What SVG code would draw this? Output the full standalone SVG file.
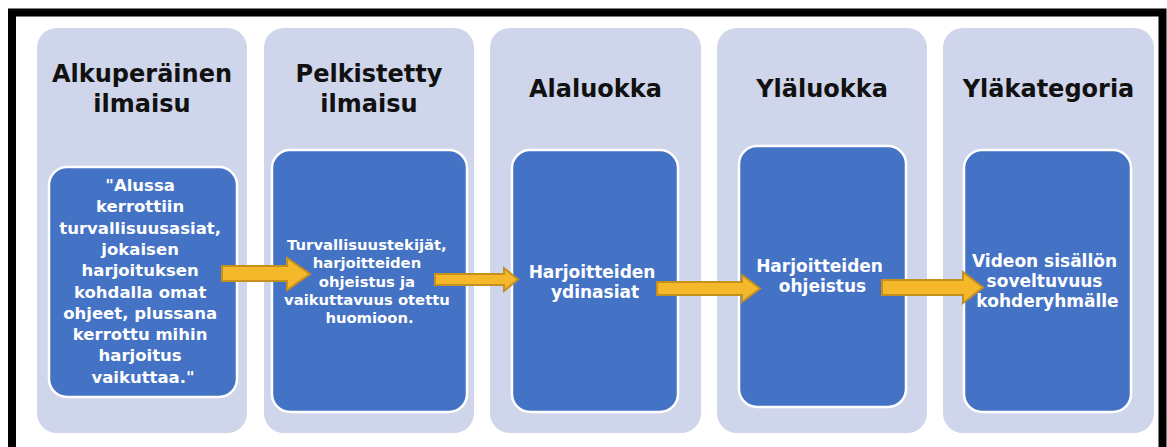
<svg xmlns="http://www.w3.org/2000/svg" width="1167" height="447" viewBox="0 0 1167 447">
<style>
.col{fill:#CFD5EA}
.box{fill:#4472C4;stroke:#FFFFFF;stroke-width:2.5}
.hd{font-family:"DejaVu Sans",Verdana,sans-serif;font-weight:bold;font-size:24px;fill:#111111;text-anchor:middle}
.t{font-family:"DejaVu Sans",Verdana,sans-serif;font-weight:bold;fill:#FFFFFF;text-anchor:middle}
.arr{fill:#F5B82B;stroke:#C4901E;stroke-width:2;stroke-linejoin:miter}
</style>
<rect width="1167" height="447" fill="#FFFFFF"/>
<path d="M12 460 V12.5 H1162.5 V460" fill="none" stroke="#000000" stroke-width="8"/>

<g id="node-alkuperainen">
<rect class="col" x="37" y="28" width="210" height="405" rx="20"/>
<text class="hd" x="142" y="82">Alkuperäinen</text>
<text class="hd" x="142" y="112">ilmaisu</text>
<rect class="box" x="49" y="167" width="188" height="230" rx="18"/>
<text class="t" font-size="16.5" x="143">
<tspan x="143" y="191">"Alussa</tspan>
<tspan x="143" y="212.3">kerrottiin</tspan>
<tspan x="143" y="233.6">turvallisuusasiat,</tspan>
<tspan x="143" y="254.9">jokaisen</tspan>
<tspan x="143" y="276.2">harjoituksen</tspan>
<tspan x="143" y="297.5">kohdalla omat</tspan>
<tspan x="143" y="318.8">ohjeet, plussana</tspan>
<tspan x="143" y="340.1">kerrottu mihin</tspan>
<tspan x="143" y="361.4">harjoitus</tspan>
<tspan x="143" y="382.7">vaikuttaa."</tspan>
</text>
</g>

<g id="node-pelkistetty">
<rect class="col" x="264" y="28" width="210" height="405" rx="20"/>
<text class="hd" x="369" y="82">Pelkistetty</text>
<text class="hd" x="369" y="112">ilmaisu</text>
<rect class="box" x="272" y="150" width="195" height="262" rx="18"/>
<text class="t" font-size="14.8" x="369.5">
<tspan x="369.5" y="250">Turvallisuustekijät,</tspan>
<tspan x="369.5" y="268.3">harjoitteiden</tspan>
<tspan x="369.5" y="286.6">ohjeistus ja</tspan>
<tspan x="369.5" y="304.9">vaikuttavuus otettu</tspan>
<tspan x="369.5" y="323.2">huomioon.</tspan>
</text>
</g>

<g id="node-alaluokka">
<rect class="col" x="490" y="28" width="211" height="405" rx="20"/>
<text class="hd" x="595.5" y="97">Alaluokka</text>
<rect class="box" x="512" y="150" width="166" height="262" rx="18"/>
<text class="t" font-size="17" x="595">
<tspan x="595" y="278">Harjoitteiden</tspan>
<tspan x="595" y="298">ydinasiat</tspan>
</text>
</g>

<g id="node-ylaluokka">
<rect class="col" x="717" y="28" width="210" height="405" rx="20"/>
<text class="hd" x="822" y="97">Yläluokka</text>
<rect class="box" x="739" y="146" width="167" height="261" rx="18"/>
<text class="t" font-size="17" x="822.5">
<tspan x="822.5" y="272">Harjoitteiden</tspan>
<tspan x="822.5" y="292">ohjeistus</tspan>
</text>
</g>

<g id="node-ylakategoria">
<rect class="col" x="943" y="28" width="211" height="405" rx="20"/>
<text class="hd" x="1048.5" y="97">Yläkategoria</text>
<rect class="box" x="964" y="150" width="167" height="262" rx="18"/>
<text class="t" font-size="17" x="1047.5">
<tspan x="1047.5" y="267">Videon sisällön</tspan>
<tspan x="1047.5" y="287">soveltuvuus</tspan>
<tspan x="1047.5" y="307">kohderyhmälle</tspan>
</text>
</g>

<g id="connectors">
<path class="arr" d="M222 266 H287 V258 L310 274 L287 290 V281 H222 Z"/>
<path class="arr" d="M435 274 H504 V268 L518 279.5 L504 291 V285 H435 Z"/>
<path class="arr" d="M657 282 H742 V275 L760 288.5 L742 302 V295 H657 Z"/>
<path class="arr" d="M882 280 H963 V272 L983 287.5 L963 303 V295 H882 Z"/>
</g>
</svg>
